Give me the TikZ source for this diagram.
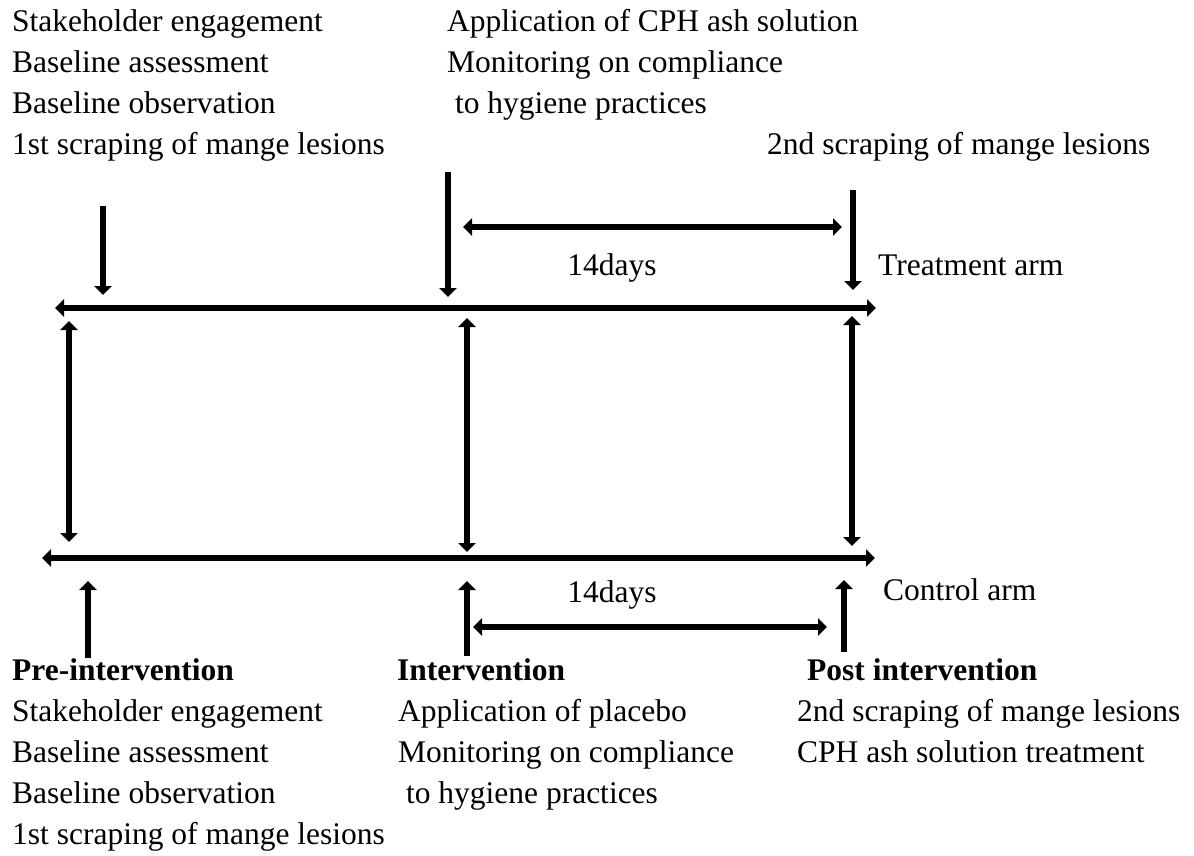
\documentclass[tikz,border=0pt]{standalone}
\usepackage{fontspec}
\setmainfont{Liberation Serif}
\usetikzlibrary{arrows.meta}
\tikzset{
  txt/.style={anchor=base west,inner sep=0pt,font=\fontsize{31.5}{38}\selectfont},
  head/.style={txt,font=\fontsize{31.5}{38}\selectfont\bfseries},
  arr/.style={line width=6.8pt,-{Triangle[width=17pt,length=9pt]}},
  darr/.style={line width=6.8pt,{Triangle[width=17pt,length=9pt]}-{Triangle[width=17pt,length=9pt]}}
}

\begin{document}
\begin{tikzpicture}[x=1pt,y=-1pt]
  \useasboundingbox (0,0) rectangle (1194,856);
  % texts above the treatment arm
  \foreach \t [count=\i] in {Stakeholder engagement,Baseline assessment,Baseline observation,1st scraping of mange lesions}
    {\node[txt] (tpre\i) at (12,{32+41*(\i-1)}) {\t};}
  \node[txt] (tint1) at (447,32) {Application of CPH ash solution};
  \node[txt] (tint2) at (447,73) {Monitoring on compliance};
  \node[txt] (tint3) at (447,114) {\ to hygiene practices};
  \node[txt] (tpost1) at (767,155) {2nd scraping of mange lesions};
  % the two arms
  \coordinate (tL) at (55,308);  \coordinate (tR) at (876,308);
  \coordinate (cL) at (42,558);  \coordinate (cR) at (875,558);
  \draw[darr] (tL) -- (tR);
  \draw[darr] (cL) -- (cR);
  \node[txt] (tarm) at (878,275) {Treatment arm};
  \node[txt] (carm) at (883,600) {Control arm};
  % down arrows onto the treatment arm
  \foreach \n/\x/\a/\b in {pre/103/206/295,int/448/172/297,post/853/190/290}{
    \coordinate (\n ds) at (\x,\a); \coordinate (\n de) at (\x,\b);
    \draw[arr] (\n ds) -- (\n de);}
  % links between the arms
  \foreach \n/\x/\a/\b in {pre/69/321/542,int/467/318/552,post/852/316/546}{
    \coordinate (\n lt) at (\x,\a); \coordinate (\n lb) at (\x,\b);
    \draw[darr] (\n lt) -- (\n lb);}
  % up arrows onto the control arm
  \foreach \n/\x/\a/\b in {pre/88/658/581,int/467/656/581,post/844/652/580}{
    \coordinate (\n us) at (\x,\a); \coordinate (\n ue) at (\x,\b);
    \draw[arr] (\n us) -- (\n ue);}
  % 14 days
  \coordinate (dT1) at (463,227); \coordinate (dT2) at (842,227);
  \coordinate (dC1) at (473,627); \coordinate (dC2) at (827,627);
  \draw[darr] (dT1) -- (dT2);
  \draw[darr] (dC1) -- (dC2);
  \node[txt,anchor=base] (dayT) at (612,275) {14days};
  \node[txt,anchor=base] (dayC) at (612,602) {14days};
  % texts below the control arm
  \node[head] (hpre) at (12,680) {Pre-intervention};
  \node[head] (hint) at (397,680) {Intervention};
  \node[head] (hpost) at (807,680) {Post intervention};
  \foreach \t [count=\i] in {Stakeholder engagement,Baseline assessment,Baseline observation,1st scraping of mange lesions}
    {\node[txt] (bpre\i) at (12,{721+41*(\i-1)}) {\t};}
  \node[txt] (bint1) at (398,721) {Application of placebo};
  \node[txt] (bint2) at (398,762) {Monitoring on compliance};
  \node[txt] (bint3) at (398,803) {\ to hygiene practices};
  \node[txt] (bpost1) at (797,721) {2nd scraping of mange lesions};
  \node[txt] (bpost2) at (797,762) {CPH ash solution treatment};
\end{tikzpicture}
\end{document}
